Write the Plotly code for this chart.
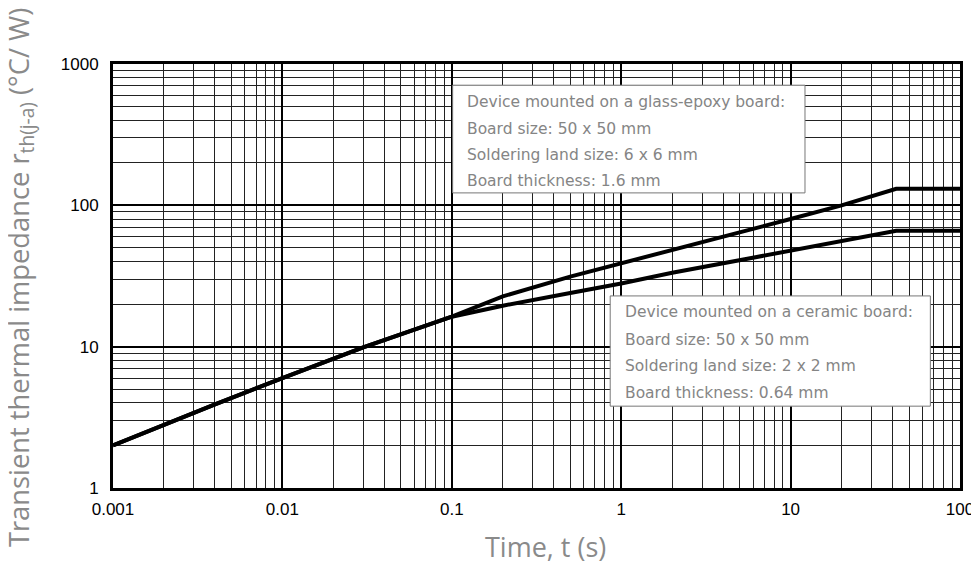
import plotly.graph_objects as go

# ---- data ----
t_glass = [0.001, 0.002, 0.004, 0.01, 0.03, 0.1, 0.2, 0.5, 1, 2, 5, 10, 20, 42, 100]
r_glass = [2.0, 2.8, 3.9, 6.0, 9.9, 16.3, 22.7, 31.3, 38.8, 48.5, 64.5, 80.0, 100.0, 131.0, 131.0]

t_ceramic = [0.001, 0.002, 0.004, 0.01, 0.03, 0.1, 0.2, 0.5, 1, 2, 5, 10, 20, 42, 100]
r_ceramic = [2.0, 2.8, 3.9, 6.0, 9.9, 16.3, 19.5, 24.0, 28.0, 33.3, 41.0, 47.7, 56.0, 66.0, 66.0]

x_tickvals = [0.001, 0.01, 0.1, 1, 10, 100]
x_ticktext = ["0.001", "0.01", "0.1", "1", "10", "100"]
y_tickvals = [1, 10, 100, 1000]
y_ticktext = ["1", "10", "100", "1000"]

x_title = "Time, t (s)"
y_title = "Transient thermal impedance r<sub>th(j-a)</sub> (°C/ W)"

glass_note = ["Device mounted on a glass-epoxy board:",
              "Board size: 50 x 50 mm",
              "Soldering land size: 6 x 6 mm",
              "Board thickness: 1.6 mm"]
ceramic_note = ["Device mounted on a ceramic board:",
                "Board size: 50 x 50 mm",
                "Soldering land size: 2 x 2 mm",
                "Board thickness: 0.64 mm"]

fig = go.Figure()
fig.add_trace(go.Scatter(x=t_glass, y=r_glass, mode="lines",
                         line=dict(color="black", width=4), showlegend=False))
fig.add_trace(go.Scatter(x=t_ceramic, y=r_ceramic, mode="lines",
                         line=dict(color="black", width=4), showlegend=False))

tick_font = dict(family="Liberation Sans, Arial, sans-serif", size=17, color="black")
title_font = dict(family="Open Sans, sans-serif", size=27, color="#8a8a8a")

fig.update_xaxes(type="log", range=[-3, 2], tickvals=x_tickvals, ticktext=x_ticktext,
                 showgrid=True, gridcolor="black", gridwidth=2,
                 minor=dict(dtick="D1", showgrid=True, gridcolor="#222", gridwidth=1.3, ticks=""),
                 showline=True, linecolor="black", linewidth=3, mirror=True, automargin=False,
                 ticks="", tickfont=tick_font, zeroline=False, ticklabelstandoff=4)
fig.update_yaxes(type="log", range=[0, 3], tickvals=y_tickvals, ticktext=y_ticktext,
                 showgrid=True, gridcolor="black", gridwidth=2,
                 minor=dict(dtick="D1", showgrid=True, gridcolor="#222", gridwidth=1.3, ticks=""),
                 showline=True, linecolor="black", linewidth=3, mirror=True, automargin=False,
                 ticks="", tickfont=tick_font, zeroline=False, ticklabelstandoff=8)

# axis titles
fig.add_annotation(xref="paper", yref="paper", x=0.511, y=-0.139, text=x_title,
                   showarrow=False, xanchor="center", yanchor="middle", font=title_font)
fig.add_annotation(xref="paper", yref="paper", x=-0.11, y=0.497, text=y_title, textangle=-90,
                   showarrow=False, xanchor="center", yanchor="middle",
                   font=dict(family="Open Sans, sans-serif", size=27.3, color="#8a8a8a"))

def note_box(lines, x0, x1, ytop, ybot, xtext, ys):
    fig.add_shape(type="rect", xref="paper", yref="paper", x0=x0, x1=x1, y0=ybot, y1=ytop,
                  fillcolor="white", line=dict(color="#777", width=1), layer="above")
    for txt, yy in zip(lines, ys):
        fig.add_annotation(xref="paper", yref="paper", x=xtext, y=yy, text=txt,
                           showarrow=False, xanchor="left", yanchor="middle",
                           font=dict(family="DejaVu Sans, Verdana, sans-serif", size=15.5, color="#858585"))

note_box(glass_note, 0.401, 0.817, 0.950, 0.696, 0.415, [0.910, 0.847, 0.785, 0.724])
note_box(ceramic_note, 0.587, 0.965, 0.453, 0.193, 0.602, [0.415, 0.350, 0.287, 0.224])

fig.update_layout(width=979, height=569, margin=dict(l=105, r=27, t=56, b=89),
                  plot_bgcolor="white", paper_bgcolor="white")

fig.write_html("out.html")
